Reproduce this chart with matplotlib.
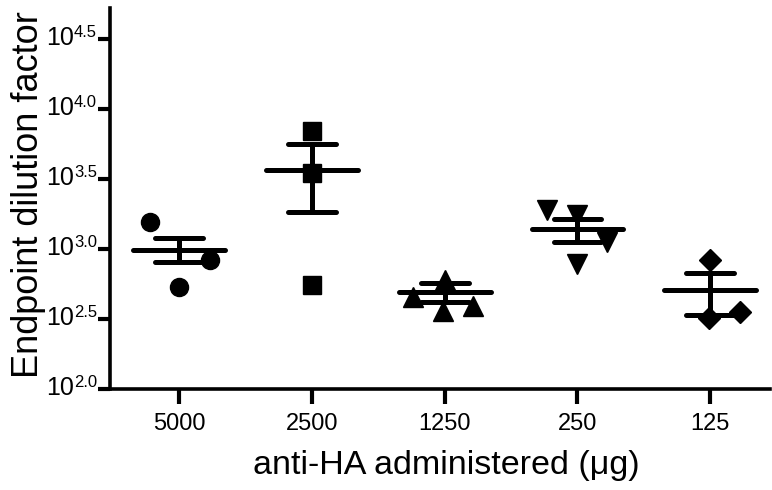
import numpy as np
import matplotlib
matplotlib.use('Agg')
import matplotlib.pyplot as plt

plt.rcParams['font.family'] = ['Liberation Sans', 'DejaVu Sans']

# doses (x categories)
doses = ['5000', '2500', '1250', '250', '125']

# individual titers, log10 of endpoint dilution factor
pts_5000 = [3.19, 2.92, 2.73]
pts_2500 = [3.84, 3.54, 2.74]
pts_1250 = [2.78, 2.66, 2.56, 2.59]
pts_250 = [3.28, 3.24, 3.05, 2.89]
pts_125 = [2.92, 2.51, 2.55]

# mean and error (log10) per group
means = [2.99, 3.56, 2.69, 3.14, 2.71]
err_hi = [3.08, 3.75, 2.76, 3.21, 2.83]
err_lo = [2.91, 3.26, 2.62, 3.05, 2.53]

# y tick exponents
yexp = ['2.0', '2.5', '3.0', '3.5', '4.0', '4.5']

groups = [pts_5000, pts_2500, pts_1250, pts_250, pts_125]
# horizontal scatter offsets of the points inside each column
jitter = [[-0.22, 0.23, 0.0],
          [0.0, 0.0, 0.0],
          [0.0, -0.24, -0.01, 0.21],
          [-0.23, 0.0, 0.22, 0.0],
          [0.0, -0.01, 0.22]]
markers = ['o', 's', '^', 'v', 'D']
msizes = [13, 13.5, 14, 14, 11.5]

fig = plt.figure(figsize=(7.72, 4.90), dpi=100)
ax = fig.add_axes([0.1425, 0.206, 0.855, 0.778])

for i, vals in enumerate(groups):
    xs = i + np.array(jitter[i])
    ax.plot(xs, 10 ** np.array(vals), linestyle='none', marker=markers[i],
            ms=msizes[i], color='black', zorder=3)
    ax.hlines(10 ** means[i], i - 0.345, i + 0.345, color='black', lw=3.6,
              capstyle='round', zorder=4)
    ax.hlines([10 ** err_hi[i], 10 ** err_lo[i]], i - 0.18, i + 0.18,
              color='black', lw=3.6, capstyle='round', zorder=4)
    ax.vlines(i, 10 ** err_lo[i], 10 ** err_hi[i], color='black', lw=3.6,
              zorder=4)

ax.set_yscale('log')
ax.set_ylim(10 ** 2.0, 10 ** 4.72)
ax.set_xlim(-0.52, 4.45)

# y tick labels as 10 with a small raised exponent
yt = [10 ** float(e) for e in yexp]
ax.set_yticks(yt)
ax.set_yticklabels([])
ax.yaxis.set_minor_locator(matplotlib.ticker.NullLocator())
ytr = ax.get_yaxis_transform()
for e, v in zip(yexp, yt):
    ax.annotate(e, xy=(0, v), xycoords=ytr, xytext=(-9.5, 1.5),
                textcoords='offset points', ha='right', va='baseline',
                fontsize=12)
    ax.annotate('10', xy=(0, v), xycoords=ytr, xytext=(-26, -4.5),
                textcoords='offset points', ha='right', va='baseline',
                fontsize=18)

ax.set_xticks(range(len(doses)))
ax.set_xticklabels(doses, fontsize=17)

ax.tick_params(axis='y', length=9, width=3, pad=2)
ax.tick_params(axis='x', length=11, width=3, pad=6)

for s in ['top', 'right']:
    ax.spines[s].set_visible(False)
for s in ['left', 'bottom']:
    ax.spines[s].set_linewidth(2.6)

ax.set_ylabel('Endpoint dilution factor', fontsize=26)
ax.yaxis.set_label_coords(-0.097, 0.51)
ax.set_xlabel('anti-HA administered (μg)', fontsize=24.5)
ax.xaxis.set_label_coords(0.51, -0.16)

fig.savefig('out.png', dpi=100)
